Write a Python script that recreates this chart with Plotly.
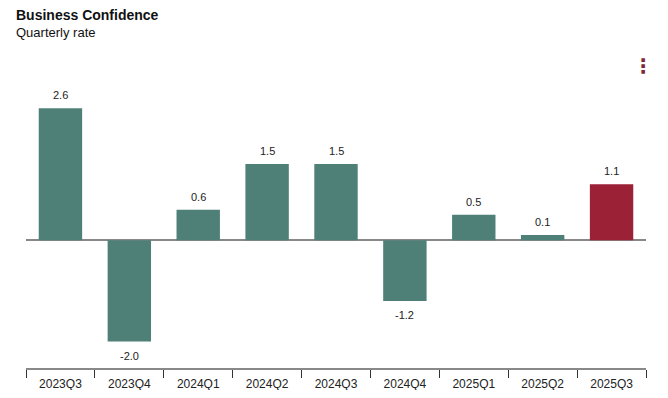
import plotly.graph_objects as go

categories = ["2023Q3", "2023Q4", "2024Q1", "2024Q2", "2024Q3", "2024Q4", "2025Q1", "2025Q2", "2025Q3"]
values = [2.6, -2.0, 0.6, 1.5, 1.5, -1.2, 0.5, 0.1, 1.1]
labels = ["2.6", "-2.0", "0.6", "1.5", "1.5", "-1.2", "0.5", "0.1", "1.1"]

TEAL = "#4e8077"
RED = "#9b2137"
colors = [TEAL] * (len(values) - 1) + [RED]
FONT = "Liberation Sans, Arial"

fig = go.Figure()
fig.add_trace(go.Bar(
    x=categories, y=values,
    marker=dict(color=colors, line=dict(width=0)),
    hoverinfo="x+y",
))

for c, v, t in zip(categories, values, labels):
    fig.add_annotation(
        x=c, y=v, text=t, showarrow=False,
        yanchor="bottom" if v >= 0 else "top",
        yshift=5 if v >= 0 else -6,
        font=dict(family=FONT, size=11, color="#222"),
    )

# title and subtitle
fig.add_annotation(
    xref="paper", yref="paper", x=0, y=1, xanchor="left", yanchor="middle",
    xshift=-12, yshift=45, showarrow=False,
    text="<b>Business Confidence</b>",
    font=dict(family=FONT, size=14, color="#111"),
)
fig.add_annotation(
    xref="paper", yref="paper", x=0, y=1, xanchor="left", yanchor="middle",
    xshift=-12, yshift=28, showarrow=False,
    text="Quarterly rate",
    font=dict(family=FONT, size=13, color="#111"),
)

# menu dots
fig.add_annotation(
    xref="paper", yref="paper", x=1.0, y=1.0, xanchor="center", yanchor="middle",
    text="<b>⋮</b>", showarrow=False, yshift=-6, xshift=-3,
    font=dict(family="DejaVu Sans", size=20, color="#7d2838"),
)

fig.update_layout(
    width=652, height=382,
    margin=dict(l=18, r=14, t=52, b=22, autoexpand=False),
    paper_bgcolor="white", plot_bgcolor="white",
    bargap=0.37,
    showlegend=False,
    xaxis=dict(
        type="category", tickson="boundaries", ticks="outside", ticklen=8,
        tickcolor="#333", tickwidth=1,
        showline=True, linecolor="#888", linewidth=2,
        showgrid=False, zeroline=False, automargin=False,
        ticklabelstandoff=4,
        tickfont=dict(family=FONT, size=12, color="#222"),
        fixedrange=True,
    ),
    yaxis=dict(
        range=[-2.52, 3.55], showticklabels=False, showgrid=False,
        zeroline=True, zerolinecolor="#888", zerolinewidth=2,
        automargin=False, fixedrange=True,
    ),
)

fig.write_html("out.html")
